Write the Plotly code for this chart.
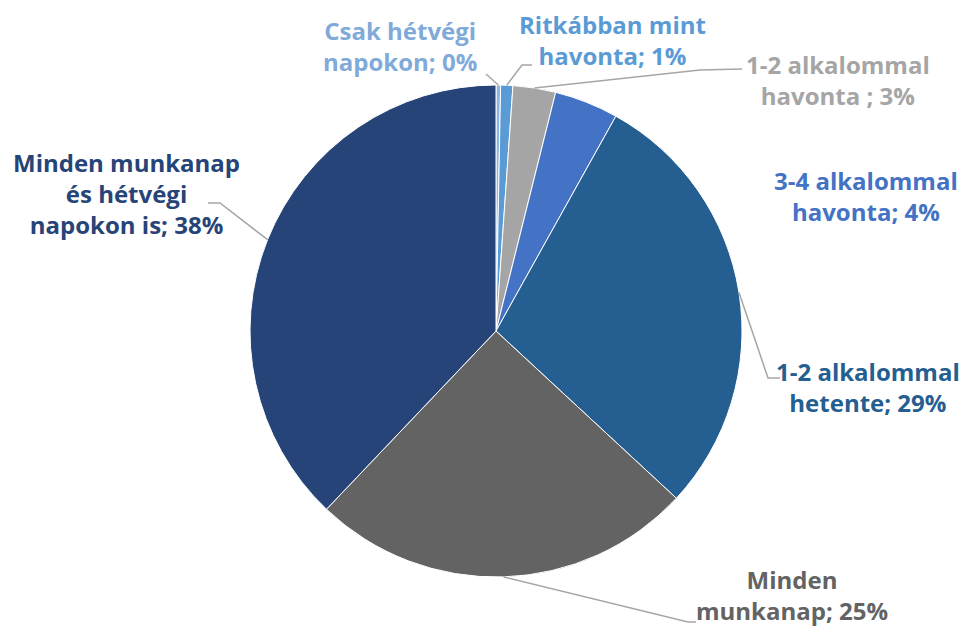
import math
import plotly.graph_objects as go

# Share of respondents by frequency (percent)
categories = [
    "Csak hétvégi<br>napokon",
    "Ritkábban mint<br>havonta",
    "1-2 alkalommal<br>havonta ",
    "3-4 alkalommal<br>havonta",
    "1-2 alkalommal<br>hetente",
    "Minden<br>munkanap",
    "Minden munkanap<br>és hétvégi<br>napokon is",
]
values = [0.3, 0.8, 2.8, 4.2, 28.8, 25.2, 37.9]
slice_colors = ["#8DB7E2", "#5B9BD5", "#A5A5A5", "#4472C4", "#255E91", "#636363", "#264478"]
label_colors = ["#7FAADA", "#5B9BD5", "#A5A5A5", "#4472C4", "#255E91", "#636363", "#264478"]

W, H = 964, 628
CX, CY, R = 496, 331, 246  # pie centre and radius in pixels

# label block centres (pixels) and leader-line bend points (None = no leader)
label_pos = [(400, 46), (612, 40), (838, 80), (866, 196), (868, 387), (792, 595), (126, 193)]
leader_pts = [
    [(486, 74)],
    [(522, 65), (532, 65)],
    [(700, 70), (742, 69)],
    None,
    [(768, 378), (780, 378)],
    [(688, 622), (696, 622)],
    [(220, 203), (208, 203)],
]

fig = go.Figure()

fig.add_trace(go.Pie(
    labels=categories,
    values=values,
    sort=False,
    direction="clockwise",
    rotation=0,
    marker=dict(colors=slice_colors, line=dict(color="white", width=1)),
    textinfo="none",
    hoverinfo="label+percent",
    showlegend=False,
    domain=dict(
        x=[(CX - R) / W, (CX + R) / W],
        y=[(H - CY - R) / H, (H - CY + R) / H],
    ),
))

# pixel-space axes for labels and leader lines
fig.update_layout(
    xaxis=dict(range=[0, W], visible=False, fixedrange=True),
    yaxis=dict(range=[H, 0], visible=False, fixedrange=True),
)

total = sum(values)
cum = 0.0
for i, v in enumerate(values):
    mid = (cum + v / 2) / total * 2 * math.pi
    cum += v
    pct = round(v / total * 100)
    text = f"{categories[i]}; {pct}%"
    lx, ly = label_pos[i]
    fig.add_annotation(
        x=lx, y=ly, xref="x", yref="y", text=text, showarrow=False,
        xanchor="center", yanchor="middle", align="center",
        font=dict(family="Open Sans", size=24, color=label_colors[i], weight="bold"),
    )
    if leader_pts[i]:
        ex = CX + R * math.sin(mid)
        ey = CY - R * math.cos(mid)
        pts = [(ex, ey)] + leader_pts[i]
        path = "M " + " L ".join(f"{x:.1f},{y:.1f}" for x, y in pts)
        fig.add_shape(type="path", path=path, xref="x", yref="y",
                      line=dict(color="#A6A6A6", width=1.5))

fig.update_layout(
    width=W, height=H,
    margin=dict(l=0, r=0, t=0, b=0),
    paper_bgcolor="white",
    plot_bgcolor="rgba(0,0,0,0)",
)

fig.write_html("out.html")
